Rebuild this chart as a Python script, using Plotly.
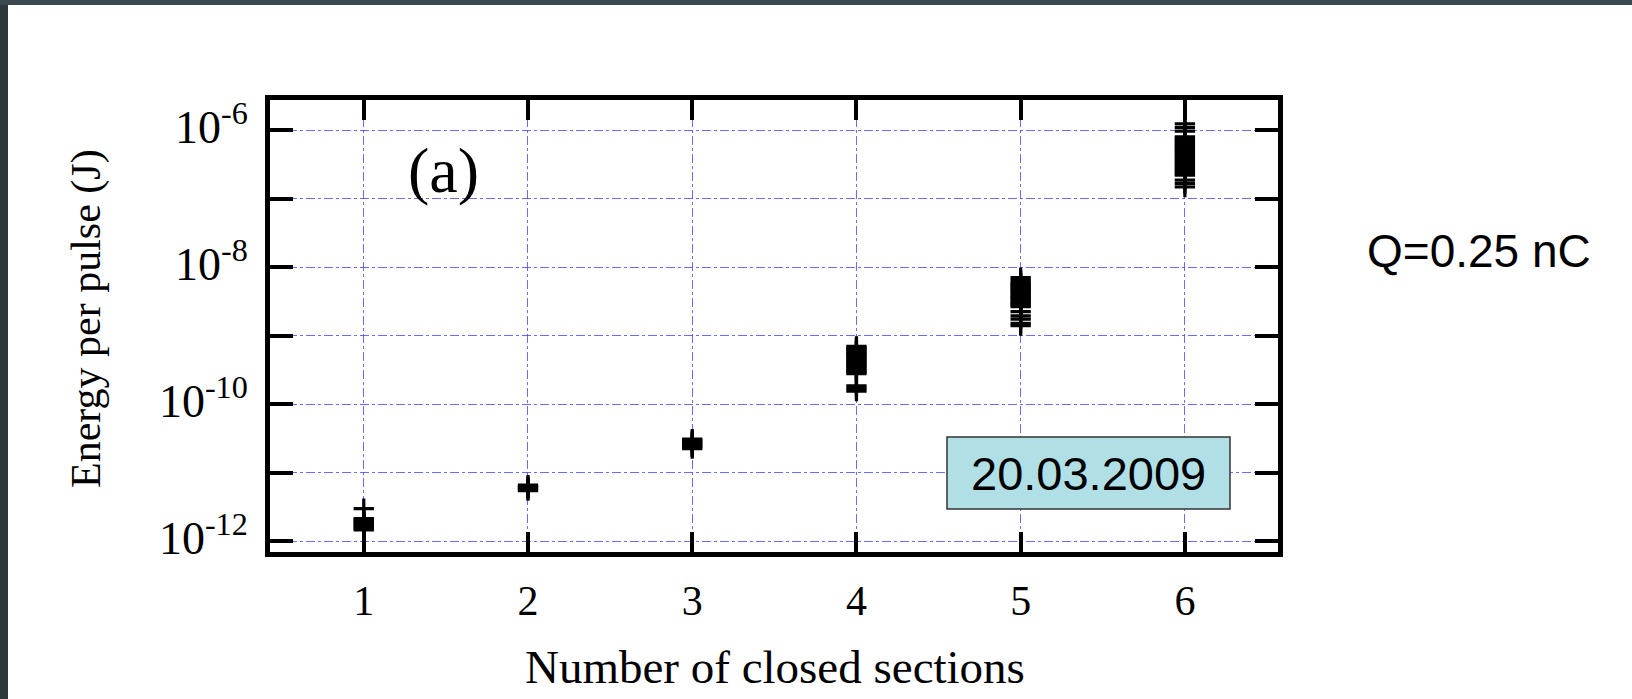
import plotly.graph_objects as go

# Energy per pulse measured for each number of closed sections (J)
sections = [1, 2, 3, 4, 5, 6]
energy_s1 = [3.0e-12, 2.15e-12, 2.05e-12, 1.95e-12, 1.87e-12, 1.79e-12,
             1.71e-12, 1.63e-12, 1.55e-12, 1.47e-12]
energy_s2 = [6.6e-12, 6.3e-12, 6.0e-12, 5.75e-12, 5.5e-12]
energy_s3 = [3.1e-11, 2.95e-11, 2.8e-11, 2.65e-11, 2.5e-11, 2.38e-11, 2.25e-11]
energy_s4 = [7.0e-10, 6.6e-10, 6.25e-10, 5.9e-10, 5.6e-10, 5.3e-10, 5.0e-10,
             4.7e-10, 4.45e-10, 4.2e-10, 3.95e-10, 3.7e-10, 3.5e-10, 3.3e-10,
             3.1e-10, 2.95e-10, 2.8e-10, 1.85e-10, 1.7e-10, 1.55e-10]
energy_s5 = [7.05e-9, 6.4e-9, 5.9e-9, 5.6e-9, 5.3e-9, 5.0e-9, 4.7e-9, 4.45e-9,
             4.2e-9, 3.95e-9, 3.7e-9, 3.5e-9, 3.3e-9, 3.1e-9, 2.95e-9, 2.8e-9,
             2.65e-9, 2.25e-9, 1.95e-9, 1.75e-9, 1.52e-9, 1.4e-9]
energy_s6 = [1.24e-6, 1.1e-6, 9.7e-7, 8.0e-7, 7.5e-7, 7.1e-7, 6.7e-7, 6.3e-7,
             5.95e-7, 5.6e-7, 5.3e-7, 5.0e-7, 4.7e-7, 4.45e-7, 4.2e-7, 3.95e-7,
             3.7e-7, 3.5e-7, 3.3e-7, 3.1e-7, 2.9e-7, 2.75e-7, 2.6e-7, 2.45e-7,
             2.3e-7, 2.2e-7, 1.86e-7, 1.66e-7, 1.48e-7]

y_tick_values = [1e-12, 1e-11, 1e-10, 1e-9, 1e-8, 1e-7, 1e-6]
y_tick_labels = ["10<sup>-12</sup>", "", "10<sup>-10</sup>", "",
                 "10<sup>-8</sup>", "", "10<sup>-6</sup>"]
x_tick_labels = ["1", "2", "3", "4", "5", "6"]

panel_label = "(a)"
date_label = "20.03.2009"
charge_label = "Q=0.25 nC"

# canvas geometry (pixels)
W, H = 1632, 699
ML, MR, MT, MB = 270, 354, 100, 147
PW, PH = W - ML - MR, H - MT - MB


def px(x):
    return (x - ML) / PW


def py(y):
    return (H - MB - y) / PH


series = [energy_s1, energy_s2, energy_s3, energy_s4, energy_s5, energy_s6]
xs, ys = [], []
for sec, vals in zip(sections, series):
    xs += [sec] * len(vals)
    ys += vals

serif = "Liberation Serif"
sans = "Liberation Sans"
grid_col = "rgba(70,70,255,0.8)"

fig = go.Figure()
fig.add_trace(go.Scatter(
    x=xs, y=ys, mode="markers",
    marker=dict(symbol="cross-thin", size=14.5,
                line=dict(color="black", width=3.2), color="black"),
    showlegend=False, hoverinfo="x+y",
))

fig.update_xaxes(
    range=[0.429, 6.567], tickvals=sections, ticktext=x_tick_labels,
    showline=True, linewidth=5, linecolor="black", mirror="allticks",
    ticks="inside", ticklen=20, tickwidth=4, tickcolor="black",
    showgrid=True, gridcolor=grid_col, gridwidth=1, griddash="dashdot",
    zeroline=False, tickfont=dict(family=serif, size=42, color="black"),
    ticklabelstandoff=8,
)
fig.update_yaxes(
    type="log", range=[-12.156, -5.56], tickvals=y_tick_values,
    ticktext=y_tick_labels,
    showline=True, linewidth=5, linecolor="black", mirror="allticks",
    ticks="inside", ticklen=23, tickwidth=4, tickcolor="black",
    showgrid=True, gridcolor=grid_col, gridwidth=1, griddash="dashdot",
    zeroline=False, tickfont=dict(family=serif, size=46, color="black"),
    ticklabelstandoff=8, ticklabelshift=-3,
)

shapes = [
    # dark slide frame at left and top
    dict(type="rect", xref="paper", yref="paper", x0=px(0), x1=px(8),
         y0=py(H), y1=py(0), fillcolor="#2d373c", line=dict(width=0),
         layer="below"),
    dict(type="rect", xref="paper", yref="paper", x0=px(0), x1=px(W),
         y0=py(5), y1=py(0), fillcolor="#3a4850", line=dict(width=0),
         layer="below"),
    # date box
    dict(type="rect", xref="paper", yref="paper", x0=px(947), x1=px(1230),
         y0=py(509), y1=py(437), fillcolor="#b0e0e6",
         line=dict(color="#333333", width=1.5), layer="above"),
]

annotations = [
    dict(text="Number of closed sections", x=px(775), y=py(667),
         xref="paper", yref="paper", showarrow=False,
         font=dict(family=serif, size=47, color="black"),
         xanchor="center", yanchor="middle"),
    dict(text="Energy per pulse (J)", x=px(86), y=py(319),
         xref="paper", yref="paper", showarrow=False, textangle=-90,
         font=dict(family=serif, size=42, color="black"),
         xanchor="center", yanchor="middle"),
    dict(text=panel_label, x=px(443), y=py(170),
         xref="paper", yref="paper", showarrow=False,
         font=dict(family=serif, size=64, color="black"),
         xanchor="center", yanchor="middle"),
    dict(text=date_label, x=px(1088), y=py(473),
         xref="paper", yref="paper", showarrow=False,
         font=dict(family=sans, size=47, color="black"),
         xanchor="center", yanchor="middle"),
    dict(text=charge_label, x=px(1479), y=py(251),
         xref="paper", yref="paper", showarrow=False,
         font=dict(family=sans, size=46, color="black"),
         xanchor="center", yanchor="middle"),
]

fig.update_layout(
    width=W, height=H,
    margin=dict(l=ML, r=MR, t=MT, b=MB, pad=0),
    paper_bgcolor="white", plot_bgcolor="white",
    shapes=shapes, annotations=annotations,
)

fig.write_html("out.html")
